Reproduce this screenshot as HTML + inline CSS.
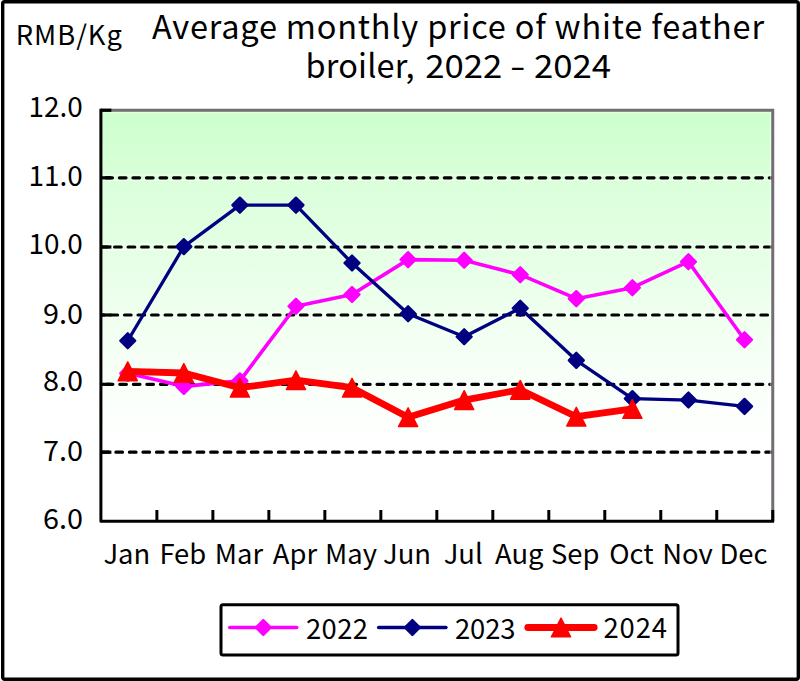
<!DOCTYPE html>
<html><head><meta charset="utf-8"><title>Average monthly price of white feather broiler</title>
<style>html,body{margin:0;padding:0;background:#fff;}svg{display:block;}</style></head>
<body>
<svg width="800" height="681" viewBox="0 0 800 681">
<defs>
<linearGradient id="bg" x1="0" y1="0" x2="0" y2="1">
<stop offset="0" stop-color="rgb(204,255,204)"/>
<stop offset="0.219" stop-color="rgb(221,255,221)"/>
<stop offset="0.377" stop-color="rgb(231,255,231)"/>
<stop offset="0.56" stop-color="rgb(243,255,243)"/>
<stop offset="0.718" stop-color="rgb(251,255,251)"/>
<stop offset="0.827" stop-color="rgb(255,255,255)"/>
</linearGradient>
</defs>
<rect x="0" y="0" width="800" height="681" fill="#fff"/>
<rect x="100.9" y="110.25" width="671.85" height="411.04999999999995" fill="url(#bg)"/>

<line x1="102.4" y1="175.20000000000002" x2="771.25" y2="175.20000000000002" stroke="#fff" stroke-opacity="0.55" stroke-width="1.2"/>
<line x1="102.4" y1="180.4" x2="771.25" y2="180.4" stroke="#fff" stroke-opacity="0.55" stroke-width="1.2"/>
<line x1="102.4" y1="244.4" x2="771.25" y2="244.4" stroke="#fff" stroke-opacity="0.55" stroke-width="1.2"/>
<line x1="102.4" y1="249.6" x2="771.25" y2="249.6" stroke="#fff" stroke-opacity="0.55" stroke-width="1.2"/>
<line x1="102.4" y1="312.4" x2="771.25" y2="312.4" stroke="#fff" stroke-opacity="0.55" stroke-width="1.2"/>
<line x1="102.4" y1="317.6" x2="771.25" y2="317.6" stroke="#fff" stroke-opacity="0.55" stroke-width="1.2"/>
<line x1="102.4" y1="381.7" x2="771.25" y2="381.7" stroke="#fff" stroke-opacity="0.55" stroke-width="1.2"/>
<line x1="102.4" y1="386.90000000000003" x2="771.25" y2="386.90000000000003" stroke="#fff" stroke-opacity="0.55" stroke-width="1.2"/>
<line x1="102.4" y1="449.59999999999997" x2="771.25" y2="449.59999999999997" stroke="#fff" stroke-opacity="0.55" stroke-width="1.2"/>
<line x1="102.4" y1="454.8" x2="771.25" y2="454.8" stroke="#fff" stroke-opacity="0.55" stroke-width="1.2"/>
<line x1="102.4" y1="177.8" x2="771.55" y2="177.8" stroke="#000" stroke-width="3.2" stroke-linecap="round" stroke-dasharray="6.60 6.94" stroke-dashoffset="10.08"/>
<line x1="102.4" y1="247.0" x2="771.55" y2="247.0" stroke="#000" stroke-width="3.2" stroke-linecap="round" stroke-dasharray="6.60 6.94" stroke-dashoffset="1.34"/>
<line x1="102.4" y1="315.0" x2="771.55" y2="315.0" stroke="#000" stroke-width="3.2" stroke-linecap="round" stroke-dasharray="6.60 6.94" stroke-dashoffset="4.98"/>
<line x1="102.4" y1="384.3" x2="771.55" y2="384.3" stroke="#000" stroke-width="3.2" stroke-linecap="round" stroke-dasharray="6.60 6.94" stroke-dashoffset="9.68"/>
<line x1="102.4" y1="452.2" x2="771.55" y2="452.2" stroke="#000" stroke-width="3.2" stroke-linecap="round" stroke-dasharray="6.60 6.94" stroke-dashoffset="0.04"/>
<path d="M100.9,112.45 H770.55 V521.3" fill="none" stroke="#fff" stroke-opacity="0.45" stroke-width="1.4"/>
<path d="M100.9,110.25 H772.75 V521.3" fill="none" stroke="#736E74" stroke-width="3"/>
<line x1="100.9" y1="110.25" x2="111.4" y2="110.25" stroke="#000" stroke-width="3.2"/>
<line x1="100.9" y1="177.8" x2="111.4" y2="177.8" stroke="#000" stroke-width="3.2"/>
<line x1="100.9" y1="247.0" x2="111.4" y2="247.0" stroke="#000" stroke-width="3.2"/>
<line x1="100.9" y1="315.0" x2="111.4" y2="315.0" stroke="#000" stroke-width="3.2"/>
<line x1="100.9" y1="384.3" x2="111.4" y2="384.3" stroke="#000" stroke-width="3.2"/>
<line x1="100.9" y1="452.2" x2="111.4" y2="452.2" stroke="#000" stroke-width="3.2"/>
<line x1="156.89" y1="521.3" x2="156.89" y2="509.99999999999994" stroke="#000" stroke-width="3"/>
<line x1="212.88" y1="521.3" x2="212.88" y2="509.99999999999994" stroke="#000" stroke-width="3"/>
<line x1="268.86" y1="521.3" x2="268.86" y2="509.99999999999994" stroke="#000" stroke-width="3"/>
<line x1="324.85" y1="521.3" x2="324.85" y2="509.99999999999994" stroke="#000" stroke-width="3"/>
<line x1="380.84" y1="521.3" x2="380.84" y2="509.99999999999994" stroke="#000" stroke-width="3"/>
<line x1="436.83" y1="521.3" x2="436.83" y2="509.99999999999994" stroke="#000" stroke-width="3"/>
<line x1="492.81" y1="521.3" x2="492.81" y2="509.99999999999994" stroke="#000" stroke-width="3"/>
<line x1="548.80" y1="521.3" x2="548.80" y2="509.99999999999994" stroke="#000" stroke-width="3"/>
<line x1="604.79" y1="521.3" x2="604.79" y2="509.99999999999994" stroke="#000" stroke-width="3"/>
<line x1="660.77" y1="521.3" x2="660.77" y2="509.99999999999994" stroke="#000" stroke-width="3"/>
<line x1="716.76" y1="521.3" x2="716.76" y2="509.99999999999994" stroke="#000" stroke-width="3"/>
<line x1="772.75" y1="521.3" x2="772.75" y2="509.99999999999994" stroke="#000" stroke-width="3"/>
<path d="M100.9,108.85 V521.3 H774.05" fill="none" stroke="#000" stroke-width="3" stroke-linejoin="round"/>
<polyline points="127.75,373.34 183.82,386.35 239.89,380.87 295.96,306.21 352.03,294.56 408.10,259.63 464.17,260.31 520.24,274.70 576.31,298.67 632.38,287.71 688.45,261.69 744.52,339.77" fill="none" stroke="#FF00FF" stroke-width="3.6" stroke-linejoin="round" stroke-linecap="round"/>
<path d="M127.75,365.84 L135.25,373.34 L127.75,380.84 L120.25,373.34 Z" fill="#FF00FF" stroke="#FF00FF" stroke-width="2.3" stroke-linejoin="round"/>
<path d="M183.82,378.85 L191.32,386.35 L183.82,393.85 L176.32,386.35 Z" fill="#FF00FF" stroke="#FF00FF" stroke-width="2.3" stroke-linejoin="round"/>
<path d="M239.89,373.37 L247.39,380.87 L239.89,388.37 L232.39,380.87 Z" fill="#FF00FF" stroke="#FF00FF" stroke-width="2.3" stroke-linejoin="round"/>
<path d="M295.96,298.71 L303.46,306.21 L295.96,313.71 L288.46,306.21 Z" fill="#FF00FF" stroke="#FF00FF" stroke-width="2.3" stroke-linejoin="round"/>
<path d="M352.03,287.06 L359.53,294.56 L352.03,302.06 L344.53,294.56 Z" fill="#FF00FF" stroke="#FF00FF" stroke-width="2.3" stroke-linejoin="round"/>
<path d="M408.10,252.13 L415.60,259.63 L408.10,267.13 L400.60,259.63 Z" fill="#FF00FF" stroke="#FF00FF" stroke-width="2.3" stroke-linejoin="round"/>
<path d="M464.17,252.81 L471.67,260.31 L464.17,267.81 L456.67,260.31 Z" fill="#FF00FF" stroke="#FF00FF" stroke-width="2.3" stroke-linejoin="round"/>
<path d="M520.24,267.20 L527.74,274.70 L520.24,282.20 L512.74,274.70 Z" fill="#FF00FF" stroke="#FF00FF" stroke-width="2.3" stroke-linejoin="round"/>
<path d="M576.31,291.17 L583.81,298.67 L576.31,306.17 L568.81,298.67 Z" fill="#FF00FF" stroke="#FF00FF" stroke-width="2.3" stroke-linejoin="round"/>
<path d="M632.38,280.21 L639.88,287.71 L632.38,295.21 L624.88,287.71 Z" fill="#FF00FF" stroke="#FF00FF" stroke-width="2.3" stroke-linejoin="round"/>
<path d="M688.45,254.19 L695.95,261.69 L688.45,269.19 L680.95,261.69 Z" fill="#FF00FF" stroke="#FF00FF" stroke-width="2.3" stroke-linejoin="round"/>
<path d="M744.52,332.27 L752.02,339.77 L744.52,347.27 L737.02,339.77 Z" fill="#FF00FF" stroke="#FF00FF" stroke-width="2.3" stroke-linejoin="round"/>
<polyline points="127.75,340.73 183.82,246.61 239.89,205.17 295.96,205.17 352.03,263.06 408.10,313.75 464.17,336.69 520.24,308.26 576.31,360.32 632.38,398.68 688.45,400.05 744.52,406.43" fill="none" stroke="#000080" stroke-width="3.3" stroke-linejoin="round" stroke-linecap="round"/>
<path d="M127.75,333.23 L135.25,340.73 L127.75,348.23 L120.25,340.73 Z" fill="#000080" stroke="#000080" stroke-width="2.3" stroke-linejoin="round"/>
<path d="M183.82,239.11 L191.32,246.61 L183.82,254.11 L176.32,246.61 Z" fill="#000080" stroke="#000080" stroke-width="2.3" stroke-linejoin="round"/>
<path d="M239.89,197.67 L247.39,205.17 L239.89,212.67 L232.39,205.17 Z" fill="#000080" stroke="#000080" stroke-width="2.3" stroke-linejoin="round"/>
<path d="M295.96,197.67 L303.46,205.17 L295.96,212.67 L288.46,205.17 Z" fill="#000080" stroke="#000080" stroke-width="2.3" stroke-linejoin="round"/>
<path d="M352.03,255.56 L359.53,263.06 L352.03,270.56 L344.53,263.06 Z" fill="#000080" stroke="#000080" stroke-width="2.3" stroke-linejoin="round"/>
<path d="M408.10,306.25 L415.60,313.75 L408.10,321.25 L400.60,313.75 Z" fill="#000080" stroke="#000080" stroke-width="2.3" stroke-linejoin="round"/>
<path d="M464.17,329.19 L471.67,336.69 L464.17,344.19 L456.67,336.69 Z" fill="#000080" stroke="#000080" stroke-width="2.3" stroke-linejoin="round"/>
<path d="M520.24,300.76 L527.74,308.26 L520.24,315.76 L512.74,308.26 Z" fill="#000080" stroke="#000080" stroke-width="2.3" stroke-linejoin="round"/>
<path d="M576.31,352.82 L583.81,360.32 L576.31,367.82 L568.81,360.32 Z" fill="#000080" stroke="#000080" stroke-width="2.3" stroke-linejoin="round"/>
<path d="M632.38,391.18 L639.88,398.68 L632.38,406.18 L624.88,398.68 Z" fill="#000080" stroke="#000080" stroke-width="2.3" stroke-linejoin="round"/>
<path d="M688.45,392.55 L695.95,400.05 L688.45,407.55 L680.95,400.05 Z" fill="#000080" stroke="#000080" stroke-width="2.3" stroke-linejoin="round"/>
<path d="M744.52,398.93 L752.02,406.43 L744.52,413.93 L737.02,406.43 Z" fill="#000080" stroke="#000080" stroke-width="2.3" stroke-linejoin="round"/>
<polyline points="127.75,371.28 183.82,373.00 239.89,387.72 295.96,380.19 352.03,387.72 408.10,417.18 464.17,400.05 520.24,389.78 576.31,416.70 632.38,408.96" fill="none" stroke="#FF0000" stroke-width="6.8" stroke-linejoin="round" stroke-linecap="round"/>
<path d="M127.75,361.88 L137.35,380.68 L118.15,380.68 Z" fill="#FF0000" stroke="#FF0000" stroke-width="1.4" stroke-linejoin="round"/>
<path d="M183.82,363.60 L193.42,382.40 L174.22,382.40 Z" fill="#FF0000" stroke="#FF0000" stroke-width="1.4" stroke-linejoin="round"/>
<path d="M239.89,378.32 L249.49,397.12 L230.29,397.12 Z" fill="#FF0000" stroke="#FF0000" stroke-width="1.4" stroke-linejoin="round"/>
<path d="M295.96,370.79 L305.56,389.59 L286.36,389.59 Z" fill="#FF0000" stroke="#FF0000" stroke-width="1.4" stroke-linejoin="round"/>
<path d="M352.03,378.32 L361.63,397.12 L342.43,397.12 Z" fill="#FF0000" stroke="#FF0000" stroke-width="1.4" stroke-linejoin="round"/>
<path d="M408.10,407.78 L417.70,426.58 L398.50,426.58 Z" fill="#FF0000" stroke="#FF0000" stroke-width="1.4" stroke-linejoin="round"/>
<path d="M464.17,390.65 L473.77,409.45 L454.57,409.45 Z" fill="#FF0000" stroke="#FF0000" stroke-width="1.4" stroke-linejoin="round"/>
<path d="M520.24,380.38 L529.84,399.18 L510.64,399.18 Z" fill="#FF0000" stroke="#FF0000" stroke-width="1.4" stroke-linejoin="round"/>
<path d="M576.31,407.30 L585.91,426.10 L566.71,426.10 Z" fill="#FF0000" stroke="#FF0000" stroke-width="1.4" stroke-linejoin="round"/>
<path d="M632.38,399.56 L641.98,418.36 L622.78,418.36 Z" fill="#FF0000" stroke="#FF0000" stroke-width="1.4" stroke-linejoin="round"/>
<g font-family="'Noto Sans CJK SC', 'Liberation Sans', sans-serif" fill="#000">
<text x="458" y="39" font-size="32.5" text-anchor="middle" textLength="612" lengthAdjust="spacing">Average monthly price of white feather</text>
<text y="77.8" font-size="32.5"><tspan x="305.5" textLength="109" lengthAdjust="spacing">broiler,</tspan> <tspan x="425.3" textLength="77" lengthAdjust="spacingAndGlyphs">2022</tspan> <tspan x="510" textLength="15.5" lengthAdjust="spacingAndGlyphs">-</tspan> <tspan x="534" textLength="77" lengthAdjust="spacingAndGlyphs">2024</tspan></text>
<text x="15.8" y="45" font-size="27.3" textLength="106" lengthAdjust="spacing">RMB/Kg</text>
<text x="28.6" y="116.7" font-size="28.2" textLength="54.3" lengthAdjust="spacingAndGlyphs">12.0</text>
<text x="28.6" y="186.0" font-size="28.2" textLength="54.3" lengthAdjust="spacingAndGlyphs">11.0</text>
<text x="28.6" y="254.4" font-size="28.2" textLength="54.3" lengthAdjust="spacingAndGlyphs">10.0</text>
<text x="43" y="323.6" font-size="28.2" textLength="40" lengthAdjust="spacingAndGlyphs">9.0</text>
<text x="43" y="391.4" font-size="28.2" textLength="40" lengthAdjust="spacingAndGlyphs">8.0</text>
<text x="43" y="460.6" font-size="28.2" textLength="40" lengthAdjust="spacingAndGlyphs">7.0</text>
<text x="43" y="528.7" font-size="28.2" textLength="40" lengthAdjust="spacingAndGlyphs">6.0</text>
<text x="126.8" y="564" font-size="27.4" text-anchor="middle">Jan</text>
<text x="182.8" y="564" font-size="27.4" text-anchor="middle">Feb</text>
<text x="238.9" y="564" font-size="27.4" text-anchor="middle">Mar</text>
<text x="295.0" y="564" font-size="27.4" text-anchor="middle">Apr</text>
<text x="351.0" y="564" font-size="27.4" text-anchor="middle">May</text>
<text x="407.1" y="564" font-size="27.4" text-anchor="middle">Jun</text>
<text x="463.2" y="564" font-size="27.4" text-anchor="middle">Jul</text>
<text x="519.2" y="564" font-size="27.4" text-anchor="middle">Aug</text>
<text x="575.3" y="564" font-size="27.4" text-anchor="middle">Sep</text>
<text x="631.4" y="564" font-size="27.4" text-anchor="middle">Oct</text>
<text x="687.5" y="564" font-size="27.4" text-anchor="middle">Nov</text>
<text x="743.5" y="564" font-size="27.4" text-anchor="middle">Dec</text>
</g>
<rect x="221" y="604.7" width="457" height="50.2" fill="#fff" stroke="#000" stroke-width="3" rx="2"/>
<line x1="229.8" y1="627.5" x2="296.7" y2="627.5" stroke="#FF00FF" stroke-width="3.6" stroke-linecap="round"/>
<path d="M263.30,620.00 L270.80,627.50 L263.30,635.00 L255.80,627.50 Z" fill="#FF00FF" stroke="#FF00FF" stroke-width="2.3" stroke-linejoin="round"/>
<line x1="378.6" y1="627.5" x2="446" y2="627.5" stroke="#000080" stroke-width="3.3" stroke-linecap="round"/>
<path d="M412.40,620.00 L419.90,627.50 L412.40,635.00 L404.90,627.50 Z" fill="#000080" stroke="#000080" stroke-width="2.3" stroke-linejoin="round"/>
<line x1="527.8" y1="627.5" x2="594.2" y2="627.5" stroke="#FF0000" stroke-width="6.8" stroke-linecap="round"/>
<path d="M561.00,618.10 L570.60,636.90 L551.40,636.90 Z" fill="#FF0000" stroke="#FF0000" stroke-width="1.4" stroke-linejoin="round"/>
<g font-family="'Noto Sans CJK SC', 'Liberation Sans', sans-serif" font-size="27.4" fill="#000">
<text x="306" y="638.6" textLength="62" lengthAdjust="spacing">2022</text>
<text x="455" y="638.6" textLength="60.5" lengthAdjust="spacing">2023</text>
<text x="603.5" y="638.4" textLength="63.5" lengthAdjust="spacing">2024</text>
</g>
<rect x="2.7" y="1.7" width="795.6" height="677.6" fill="none" stroke="#000" stroke-width="3.4" rx="2"/>
</svg>
</body></html>
